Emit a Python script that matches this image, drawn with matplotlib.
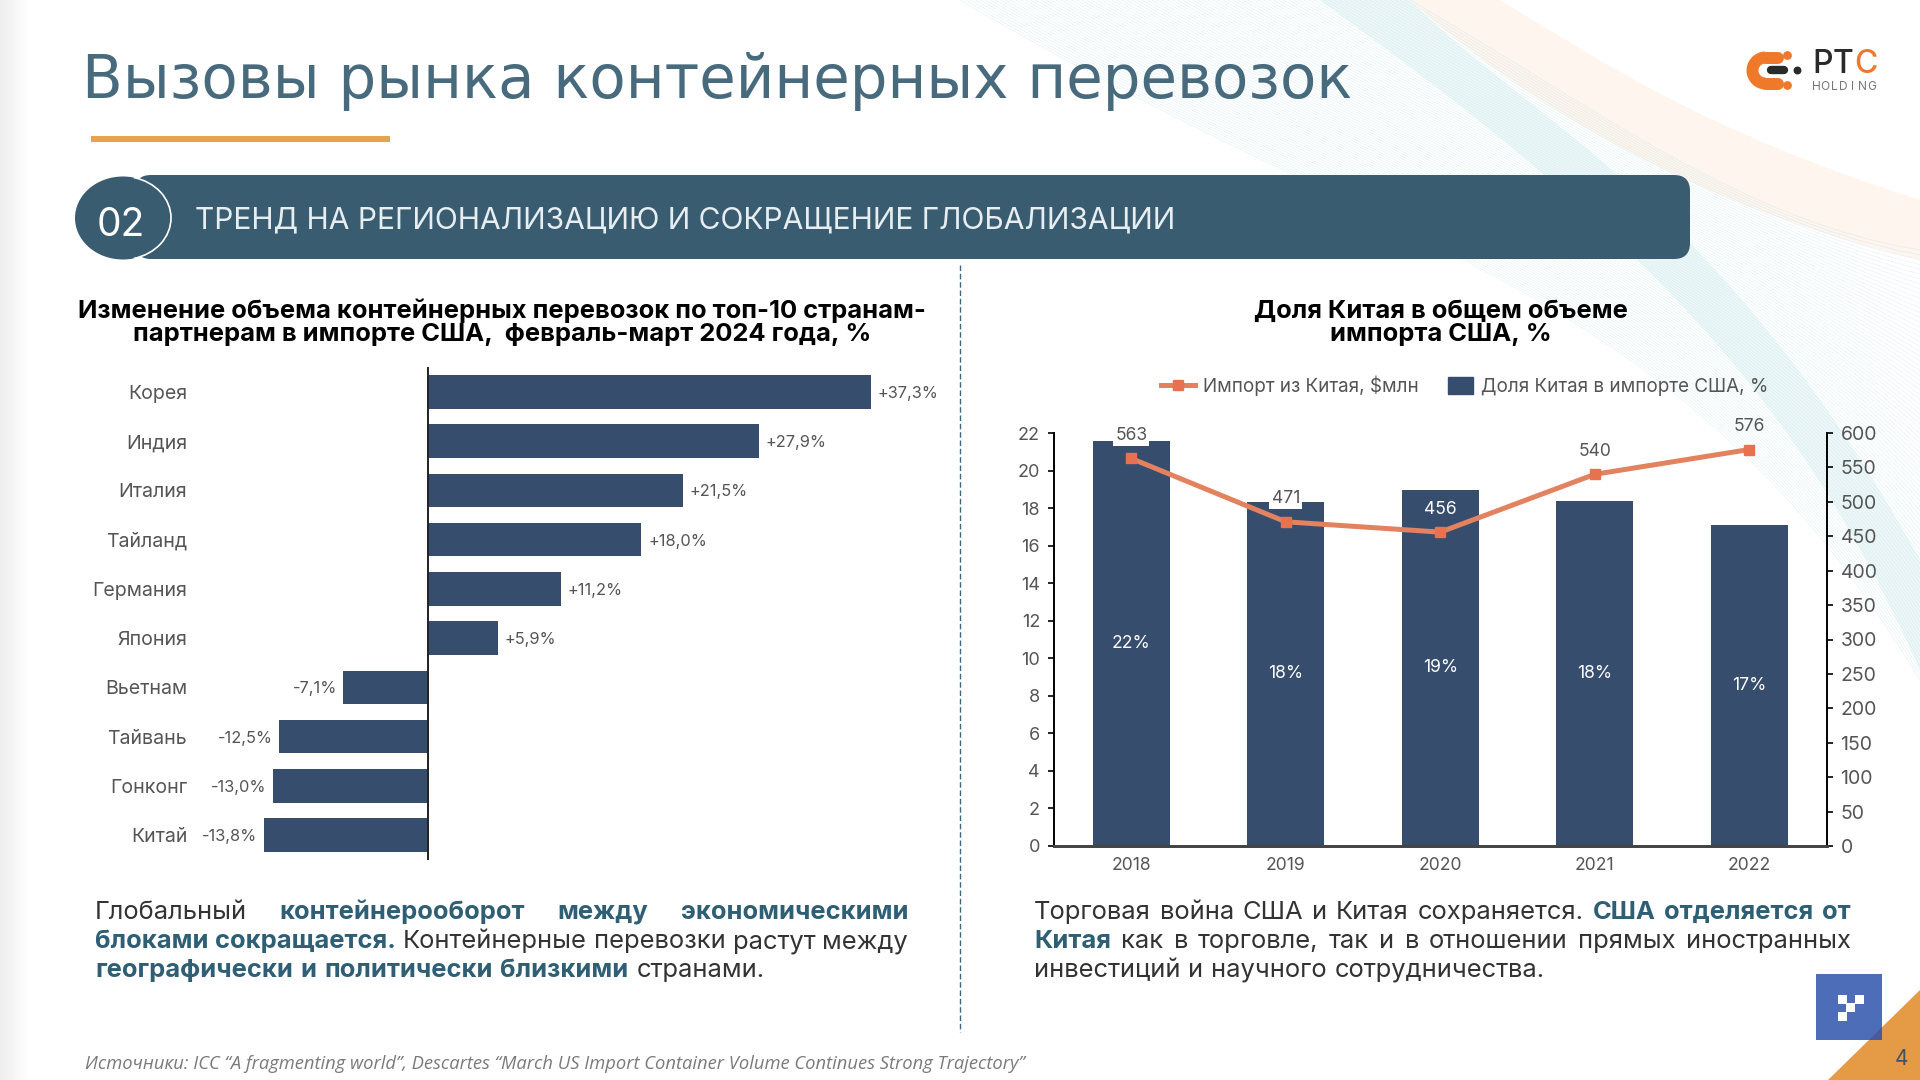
import matplotlib
matplotlib.use("Agg")
import matplotlib.pyplot as plt
import matplotlib.patches as patches
from matplotlib.legend_handler import HandlerPatch
from matplotlib.path import Path
import numpy as np

plt.rcParams["font.family"] = ["Inter", "Open Sans", "DejaVu Sans"]

W, H = 1920, 1080

# left chart
countries = ["Корея", "Индия", "Италия", "Тайланд", "Германия", "Япония", "Вьетнам", "Тайвань", "Гонконг", "Китай"]
changes = [37.3, 27.9, 21.5, 18.0, 11.2, 5.9, -7.1, -12.5, -13.0, -13.8]

# right chart
years = ["2018", "2019", "2020", "2021", "2022"]
share_bars = [21.55, 18.34, 18.98, 18.37, 17.08]
share_labels = ["22%", "18%", "19%", "18%", "17%"]
imports = [563, 471, 456, 540, 576]

NAVY = "#364d6e"
TEAL = "#3a5c70"
GREY = "#555555"
ORANGE = "#f0782a"
LINE = "#e2825f"

paragraph_left = [
    [("Глобальный", 0), ("контейнерооборот", 1), ("между", 1), ("экономическими", 1)],
    [("блоками", 1), ("сокращается.", 1), ("Контейнерные", 0), ("перевозки", 0), ("растут", 0), ("между", 0)],
    [("географически", 1), ("и", 1), ("политически", 1), ("близкими", 1), ("странами.", 0)],
]
paragraph_right = [
    [("Торговая", 0), ("война", 0), ("США", 0), ("и", 0), ("Китая", 0), ("сохраняется.", 0), ("США", 1), ("отделяется", 1), ("от", 1)],
    [("Китая", 1), ("как", 0), ("в", 0), ("торговле,", 0), ("так", 0), ("и", 0), ("в", 0), ("отношении", 0), ("прямых", 0), ("иностранных", 0)],
    [("инвестиций", 0), ("и", 0), ("научного", 0), ("сотрудничества.", 0)],
]

fig = plt.figure(figsize=(W / 100, H / 100), dpi=100, facecolor="white")
renderer = fig.canvas.get_renderer()


def px_axes(x0, y0, x1, y1, **kw):
    """Axes placed by screen pixels, y going down."""
    return fig.add_axes([x0 / W, 1 - y1 / H, (x1 - x0) / W, (y1 - y0) / H], **kw)


def text_width(t):
    return t.get_window_extent(renderer).width


def fit_width(t, target):
    # scale the font so the text spans the target width
    t.set_fontsize(t.get_fontsize() * target / text_width(t))
    return t


def soft_shape(start, curves, color, alpha):
    """Closed filled shape from cubic segments, each segment is three points."""
    verts = [start]
    codes = [Path.MOVETO]
    for seg in curves:
        verts += seg
        codes += [Path.CURVE4] * 3
    verts.append(start)
    codes.append(Path.CLOSEPOLY)
    bg.add_patch(patches.PathPatch(Path(verts, codes), facecolor=color, edgecolor="none", alpha=alpha, zorder=1))


def square_handle(legend, orig_handle, xdescent, ydescent, width, height, fontsize):
    # narrower than the line handle next to it
    return patches.Rectangle((-xdescent + width * 0.25, -ydescent), width * 0.75, height)


# background layer in pixel coordinates
bg = px_axes(0, 0, W, H)
bg.set_xlim(0, W)
bg.set_ylim(H, 0)
bg.axis("off")

# soft shadow down the left edge
shade = np.linspace(0.93, 1.0, 30).reshape(1, -1)
bg.imshow(shade, extent=(0, 30, H, 0), cmap="gray", vmin=0, vmax=1, aspect="auto", zorder=0)
bg.set_xlim(0, W)
bg.set_ylim(H, 0)

# decorative waves
soft_shape((1410, 0), [[(1410, 0), (1480, 0), (1500, 0)],
                       [(1600, 60), (1700, 130), (1920, 200)],
                       [(1920, 220), (1920, 250), (1920, 260)],
                       [(1800, 230), (1600, 170), (1410, 0)]],
           "#fdeee0", 0.55)
soft_shape((1320, 0), [[(1340, 0), (1390, 0), (1410, 0)],
                       [(1540, 130), (1720, 200), (1920, 560)],
                       [(1920, 600), (1920, 640), (1920, 670)],
                       [(1800, 400), (1650, 240), (1320, 0)]],
           "#dff1f2", 0.55)
for t in np.linspace(0, 1, 90):
    verts = [(960 + 450 * t, 0), (1400 + 200 * t, 260 - 150 * t), (1680 + 60 * t, 280 - 60 * t), (1920, 680 - 430 * t)]
    bg.add_patch(patches.PathPatch(Path(verts, [Path.MOVETO, Path.CURVE4, Path.CURVE4, Path.CURVE4]),
                                   facecolor="none", edgecolor="#a9d8dc", lw=0.4, alpha=0.35, zorder=1))

# header
title = bg.text(82, 98, "Вызовы рынка контейнерных перевозок", fontsize=40, color="#486a7d",
                family="DejaVu Sans", va="baseline", ha="left")
fit_width(title, 1269)
bg.add_patch(patches.Rectangle((91, 136), 299, 6, facecolor="#e8a14d", edgecolor="none"))

# section band
bg.add_patch(patches.FancyBboxPatch((135, 175), 1555, 84, boxstyle="round,pad=0,rounding_size=16",
                                    facecolor=TEAL, edgecolor="none", zorder=2))
bg.add_patch(patches.Ellipse((123, 218), 96, 83, facecolor=TEAL, edgecolor="none", zorder=3))
bg.add_patch(patches.Arc((123, 218), 96, 83, theta1=-75, theta2=75, edgecolor="white", lw=1.2, zorder=4))
bg.text(121, 225, "02", color="white", fontsize=28, ha="center", va="center", zorder=5)
band = bg.text(195, 220, "ТРЕНД НА РЕГИОНАЛИЗАЦИЮ И СОКРАЩЕНИЕ ГЛОБАЛИЗАЦИИ", color="#e6eef2",
               fontsize=21, ha="left", va="center", zorder=5)
fit_width(band, 982)

bg.plot([960, 960], [265, 1032], color="#3a6a80", lw=1, ls=(0, (4, 2)), zorder=2)

# chart titles
for x, y, s in [(502, 311, "Изменение объема контейнерных перевозок по топ-10 странам-"),
                (502, 334, "партнерам в импорте США,  февраль-март 2024 года, %"),
                (1441, 311, "Доля Китая в общем объеме"),
                (1441, 334, "импорта США, %")]:
    bg.text(x, y, s, fontsize=18.4, fontweight="bold", color="black", ha="center", va="center")


# left bar chart
x_scale = 11.88  # px per percent
ax = px_axes(190, 367.4, 900, 859.6)
ax.patch.set_alpha(0)
ax.set_xlim((190 - 427.5) / x_scale, (900 - 427.5) / x_scale)
ypos = np.arange(len(countries))
ax.set_ylim(len(countries) - 0.5, -0.5)
ax.barh(ypos, changes, height=0.68, color=NAVY)
ax.axvline(0, color="#222222", lw=1.4)
for spine in ax.spines.values():
    spine.set_visible(False)
ax.set_xticks([])
ax.set_yticks(ypos, countries, fontsize=14.1, color=GREY)
ax.tick_params(axis="y", length=0, pad=2)
for y, v in zip(ypos, changes):
    label = f"{v:+.1f}%".replace(".", ",")
    ax.annotate(label, (v, y), xytext=(5 if v > 0 else -4.5, 0), textcoords="offset points",
                ha="left" if v > 0 else "right", va="center_baseline", fontsize=11.8, color=GREY)


# right combo chart
ax1 = px_axes(1054, 433, 1826.5, 846)
ax1.patch.set_alpha(0)
xpos = np.arange(len(years))
bars = ax1.bar(xpos, share_bars, width=0.5, color=NAVY)
ax1.set_xlim(-0.5, len(years) - 0.5)
ax1.set_ylim(0, 22)
ax1.set_yticks(range(0, 23, 2))
ax1.set_xticks(xpos, years)
ax1.tick_params(axis="x", length=0, labelsize=12.6, labelcolor=GREY, pad=8)
ax1.tick_params(axis="y", length=4, width=1.2, labelsize=13, labelcolor=GREY, pad=6)
for b, lab in zip(bars, share_labels):
    ax1.text(b.get_x() + b.get_width() / 2, b.get_height() / 2, lab, color="white",
             ha="center", va="center", fontsize=12.6)

ax2 = ax1.twinx()
ax2.set_ylim(0, 600)
ax2.set_yticks(range(0, 601, 50))
ax2.tick_params(axis="y", length=4, width=1.2, labelsize=14, labelcolor=GREY, pad=6)
line, = ax2.plot(xpos, imports, color=LINE, lw=3.6, marker="s", ms=6.5, mfc="#e8714f", mec="#e8714f",
                 label="Импорт из Китая, $млн")
for x, v in zip(xpos, imports):
    white_box = v in (563, 471)
    ax2.annotate(str(v), (x, v), xytext=(0, 16.5), textcoords="offset points", ha="center", va="center",
                 fontsize=12.6, color="white" if v == 456 else GREY,
                 bbox=dict(facecolor="white", edgecolor="none", pad=1.5) if white_box else None)

for a in (ax1, ax2):
    a.spines["top"].set_visible(False)
    a.spines["left"].set_linewidth(1.4)
    a.spines["right"].set_linewidth(1.4)
    a.spines["bottom"].set_linewidth(2)
    a.spines["bottom"].set_color("#444444")
ax1.spines["right"].set_visible(False)
ax2.spines["left"].set_visible(False)

share_handle = patches.Patch(color=NAVY, label="Доля Китая в импорте США, %")
ax2.legend(handles=[line, share_handle], loc="center", bbox_to_anchor=(1465 / W, 1 - 386 / H),
           bbox_transform=fig.transFigure, ncol=2, frameon=False, fontsize=13.6,
           labelcolor=GREY, handlelength=1.75, handleheight=1.0, handletextpad=0.45, columnspacing=1.1,
           handler_map={patches.Patch: HandlerPatch(patch_func=square_handle)})


# paragraphs with justified lines
def draw_paragraph(lines, x0, x1, baselines, size=18.4):
    for i, (words, y) in enumerate(zip(lines, baselines)):
        items = [bg.text(0, y, w, fontsize=size, va="baseline", ha="left",
                         fontweight="bold" if b else "normal", color="#2f5f75" if b else "#333333")
                 for w, b in words]
        widths = [text_width(t) for t in items]
        if i < len(lines) - 1:
            gap = (x1 - x0 - sum(widths)) / (len(items) - 1)
        else:
            gap = size * 100 / 72 * 0.3
        x = x0
        for t, w in zip(items, widths):
            t.set_x(x)
            x += w + gap


draw_paragraph(paragraph_left, 95, 908, [919, 948, 977])
draw_paragraph(paragraph_right, 1034, 1851, [919, 948, 977])

# source line
src = bg.text(85, 1069, "Источники: ICC “A fragmenting world”, Descartes “March US Import Container Volume Continues Strong Trajectory”",
              fontsize=12.5, style="italic", color="#7a7a7a", family=["Open Sans", "DejaVu Sans"], va="baseline")
fit_width(src, 941)

# logo
bg.add_patch(patches.Arc((1765.5, 70.5), 26, 26, theta1=90, theta2=270, edgecolor=ORANGE, lw=8.6, zorder=3))
for y in (57.5, 83.5):
    bg.plot([1765.5, 1778], [y, y], color=ORANGE, lw=8.6, solid_capstyle="round", zorder=3)
bg.plot([1771, 1784], [70, 70], color="#2a2a2a", lw=6, solid_capstyle="round", zorder=3)
bg.scatter([1787, 1787], [55, 85], s=28, color=ORANGE, zorder=3)
bg.scatter([1797], [70], s=22, color="#2a2a2a", zorder=3)
for x, ch, col in [(1812, "P", "#2a2a2a"), (1833, "T", "#2a2a2a"), (1854, "C", ORANGE)]:
    bg.text(x, 73, ch, fontsize=23, color=col, va="baseline", ha="left", fontweight="medium")
for i, ch in enumerate("HOLDING"):
    bg.text(1816 + i * 9.2, 90, ch, fontsize=8.6, color="#777777", va="baseline", ha="center")

# bottom right corner
bg.add_patch(patches.Polygon([(1920, 990), (1828, 1080), (1920, 1080)], facecolor="#e59a45", edgecolor="none", zorder=3))
bg.add_patch(patches.Rectangle((1816, 974), 66, 66, facecolor="#4d6db8", edgecolor="none", zorder=4))
bg.add_patch(patches.Polygon([(1882, 1027), (1869, 1040), (1882, 1040)], facecolor="#4a5a9a", edgecolor="none", zorder=5))
for x, y in [(1838, 995), (1855, 995), (1846, 1003), (1838, 1012)]:
    bg.add_patch(patches.Rectangle((x, y), 8.5, 8.5, facecolor="white", edgecolor="none", zorder=5))
bg.text(1901, 1059, "4", fontsize=15, color="#3d5566", ha="center", va="center", zorder=5)

fig.savefig("out.png", dpi=100)
